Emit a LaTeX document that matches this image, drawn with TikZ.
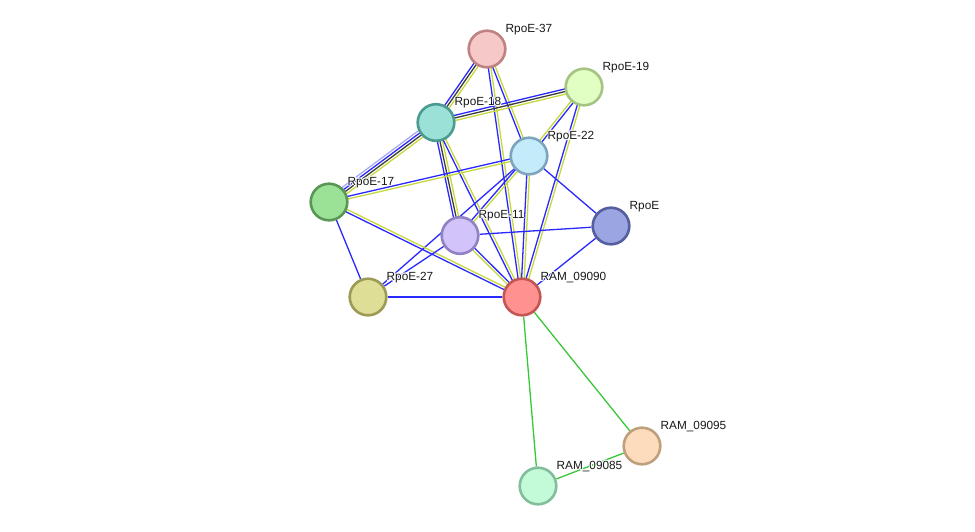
\documentclass[tikz,border=0pt]{standalone}
\usepackage{fontspec}
\setmainfont{Liberation Sans}
\usetikzlibrary{calc,backgrounds}
\definecolor{eblue}{RGB}{40,40,255}
\definecolor{eyel}{RGB}{198,216,60}
\definecolor{eblk}{RGB}{60,60,60}
\definecolor{elav}{RGB}{170,170,240}
\definecolor{egrn}{RGB}{55,200,55}
\definecolor{f37}{RGB}{247,200,200}\definecolor{b37}{RGB}{190,130,130}
\definecolor{f19}{RGB}{225,255,195}\definecolor{b19}{RGB}{165,195,130}
\definecolor{f18}{RGB}{155,225,215}\definecolor{b18}{RGB}{75,155,145}
\definecolor{f22}{RGB}{195,235,250}\definecolor{b22}{RGB}{125,165,190}
\definecolor{f17}{RGB}{155,225,150}\definecolor{b17}{RGB}{90,150,85}
\definecolor{f11}{RGB}{210,195,250}\definecolor{b11}{RGB}{145,130,195}
\definecolor{fE}{RGB}{155,165,225}\definecolor{bE}{RGB}{85,95,160}
\definecolor{f27}{RGB}{222,222,150}\definecolor{b27}{RGB}{155,155,85}
\definecolor{f90}{RGB}{255,145,145}\definecolor{b90}{RGB}{195,85,85}
\definecolor{f95}{RGB}{253,220,190}\definecolor{b95}{RGB}{190,160,125}
\definecolor{f85}{RGB}{195,250,215}\definecolor{b85}{RGB}{130,190,155}
\newcommand\hcopy[3]{\makebox[0pt][l]{\hspace*{#1}\raisebox{#2}{\color{white}#3}}}
\newcommand\haloed[1]{\hcopy{0.9pt}{0pt}{#1}\hcopy{-0.9pt}{0pt}{#1}\hcopy{0pt}{0.9pt}{#1}\hcopy{0pt}{-0.9pt}{#1}%
\hcopy{0.65pt}{0.65pt}{#1}\hcopy{-0.65pt}{0.65pt}{#1}\hcopy{0.65pt}{-0.65pt}{#1}\hcopy{-0.65pt}{-0.65pt}{#1}#1}
\tikzset{
  prot/.style={circle, minimum size=36.6pt, line width=2.6pt, inner sep=0pt},
  lbl/.style={anchor=west, inner sep=0pt, font=\fontsize{11.8}{14}\selectfont, text=black!90},
  ln/.style={line width=1.3pt},
}
\newcommand\sedge[4]{\draw[ln,#4] ($(#1)!#3!90:(#2)$) -- ($(#2)!#3!-90:(#1)$);}
\begin{document}
\begin{tikzpicture}[x=1pt,y=-1pt]
\useasboundingbox (0,0) rectangle (975,531);
\node[prot,fill=f37,draw=b37] (n37) at (487,49) {};
\node[prot,fill=f19,draw=b19] (n19) at (584,87) {};
\node[prot,fill=f18,draw=b18] (n18) at (436,122.5) {};
\node[prot,fill=f22,draw=b22] (n22) at (529,156) {};
\node[prot,fill=f17,draw=b17] (n17) at (329,202) {};
\node[prot,fill=f11,draw=b11] (n11) at (460,235.5) {};
\node[prot,fill=fE,draw=bE] (nE) at (611,226) {};
\node[prot,fill=f27,draw=b27] (n27) at (368,297) {};
\node[prot,fill=f90,draw=b90] (n90) at (522,297) {};
\node[prot,fill=f95,draw=b95] (n95) at (642,446) {};
\node[prot,fill=f85,draw=b85] (n85) at (538,486) {};
\node[lbl] (l37) at (505.5,29.5) {\haloed{RpoE-37}};
\node[lbl] (l19) at (602.5,67.5) {\haloed{RpoE-19}};
\node[lbl] (l18) at (454.5,103) {\haloed{RpoE-18}};
\node[lbl] (l22) at (547.5,136.5) {\haloed{RpoE-22}};
\node[lbl] (l17) at (347.5,182.5) {\haloed{RpoE-17}};
\node[lbl] (l11) at (478.5,216) {\haloed{RpoE-11}};
\node[lbl] (lE) at (629.5,206.5) {\haloed{RpoE}};
\node[lbl] (l27) at (386.5,277.5) {\haloed{RpoE-27}};
\node[lbl] (l90) at (540.5,277.5) {\haloed{RAM\_09090}};
\node[lbl] (l95) at (660.5,426.5) {\haloed{RAM\_09095}};
\node[lbl] (l85) at (556.5,466.5) {\haloed{RAM\_09085}};
\begin{pgfonlayer}{background}
% 37-18
\sedge{n37}{n18}{2.6pt}{eyel}\sedge{n37}{n18}{0pt}{eblk}\sedge{n37}{n18}{-2.6pt}{eblue}
% 37-22, 37-09090
\sedge{n37}{n22}{1.3pt}{eyel}\sedge{n37}{n22}{-1.3pt}{eblue}
\sedge{n37}{n90}{1.3pt}{eyel}\sedge{n37}{n90}{-1.3pt}{eblue}
% 18-19
\sedge{n18}{n19}{2.6pt}{eblue}\sedge{n18}{n19}{0pt}{eblk}\sedge{n18}{n19}{-2.6pt}{eyel}
% 18-17
\sedge{n18}{n17}{3.9pt}{eyel}\sedge{n18}{n17}{1.3pt}{eblk}\sedge{n18}{n17}{-1.3pt}{eblue}\sedge{n18}{n17}{-3.9pt}{elav}
% 18-11
\sedge{n18}{n11}{2.6pt}{eyel}\sedge{n18}{n11}{0pt}{eblk}\sedge{n18}{n11}{-2.6pt}{eblue}
% 18-09090
\sedge{n18}{n90}{1.3pt}{eyel}\sedge{n18}{n90}{-1.3pt}{eblue}
% 19-22, 19-09090
\sedge{n19}{n22}{1.3pt}{eblue}\sedge{n19}{n22}{-1.3pt}{eyel}
\sedge{n19}{n90}{1.3pt}{eyel}\sedge{n19}{n90}{-1.3pt}{eblue}
% 22-17, 22-11, 22-09090
\sedge{n22}{n17}{1.3pt}{eyel}\sedge{n22}{n17}{-1.3pt}{eblue}
\sedge{n22}{n11}{1.3pt}{eyel}\sedge{n22}{n11}{-1.3pt}{eblue}
\sedge{n22}{n90}{1.3pt}{eyel}\sedge{n22}{n90}{-1.3pt}{eblue}
\draw[ln,eblue] (n22) -- (n27);
\draw[ln,eblue] (n22) -- (nE);
% 17
\sedge{n17}{n90}{1.3pt}{eyel}\sedge{n17}{n90}{-1.3pt}{eblue}
\draw[ln,eblue] (n17) -- (n27);
% 11
\draw[ln,eblue] (n11) -- (nE);
\draw[ln,eblue] (n11) -- (n27);
\sedge{n11}{n90}{1.3pt}{eblue}\sedge{n11}{n90}{-1.3pt}{eyel}
% others
\draw[ln,eblue] (n27) -- (n90);
\draw[ln,eblue] (nE) -- (n90);
\draw[ln,egrn] (n90) -- (n95);
\draw[ln,egrn] (n90) -- (n85);
\draw[ln,egrn] (n95) -- (n85);
\end{pgfonlayer}
\end{tikzpicture}
\end{document}
